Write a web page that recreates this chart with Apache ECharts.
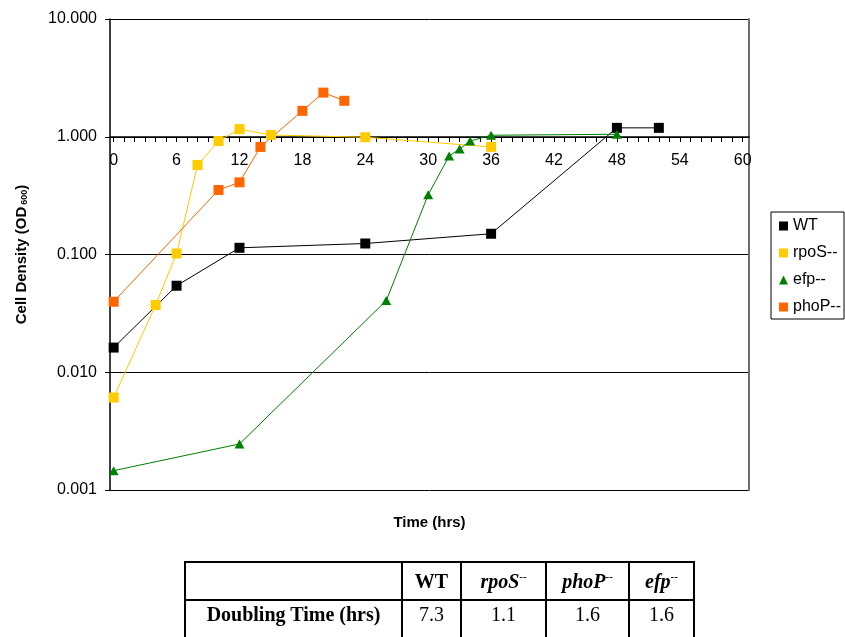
<!DOCTYPE html>
<html>
<head>
<meta charset="utf-8">
<script src="https://cdn.jsdelivr.net/npm/echarts@6/dist/echarts.min.js"></script>
<style>
  html, body { margin: 0; padding: 0; background: #fff; }
  #wrap { position: relative; width: 845px; height: 637px; overflow: hidden; }
  #chart { position: absolute; left: 0; top: 0; width: 845px; height: 637px; }
  #dt {
    position: absolute; left: 184px; top: 561px;
    border-collapse: collapse; table-layout: fixed;
    font-family: "Liberation Serif", "Times New Roman", serif; font-size: 20px; color: #000;
  }
  #dt td { border: 2px solid #000; text-align: center; padding: 0; }
  #dt tr.h td { height: 36px; font-weight: bold; }
  #dt tr.v td { height: 42px; vertical-align: top; padding-top: 2px; }
  #dt td.rowhead { font-weight: bold; }
  #dt i { font-weight: bold; }
  #dt sup { font-size: 11px; vertical-align: 8px; line-height: 0; }
</style>
</head>
<body>
<div id="wrap">
  <div id="chart"></div>
  <table id="dt">
    <colgroup><col style="width:217px"><col style="width:59px"><col style="width:85px"><col style="width:83px"><col style="width:65px"></colgroup>
    <tr class="h"><td></td><td>WT</td><td><i>rpoS</i><sup>--</sup></td><td><i>phoP</i><sup>--</sup></td><td><i>efp</i><sup>--</sup></td></tr>
    <tr class="v"><td class="rowhead">Doubling Time (hrs)</td><td>7.3</td><td>1.1</td><td>1.6</td><td>1.6</td></tr>
  </table>
</div>
<script>
// Growth curves: time (hrs) and OD600 for each strain
const wtTime   = [0, 6, 12, 24, 36, 48, 52];
const wtOD     = [0.0162, 0.0543, 0.114, 0.124, 0.150, 1.19, 1.19];

const rpoSTime = [0, 4, 6, 8, 10, 12, 15, 24, 36];
const rpoSOD   = [0.0061, 0.0372, 0.102, 0.575, 0.92, 1.16, 1.035, 0.99, 0.82];

const efpTime  = [0, 12, 26, 30, 32, 33, 34, 36, 48];
const efpOD    = [0.00146, 0.00246, 0.0406, 0.322, 0.687, 0.787, 0.92, 1.03, 1.05];

const phoPTime = [0, 10, 12, 14, 18, 20, 22];
const phoPOD   = [0.0397, 0.353, 0.41, 0.82, 1.66, 2.37, 2.02];

// Axis ticks
const xLabelValues = [0, 6, 12, 18, 24, 30, 36, 42, 48, 54, 60];
const xMinorStep = 1;
const yTickLabels = ['0.001', '0.010', '0.100', '1.000', '10.000'];

const xTickValues = [];
for (let t = 0; t <= 60; t += xMinorStep) xTickValues.push(t);

const pairs = (xs, ys) => xs.map((x, i) => [x, ys[i]]);

const FONT = '"Liberation Sans", Arial, sans-serif';
const xMin = -0.35, xMax = 60.6;

const chart = echarts.init(document.getElementById('chart'));

const strains = [
  { name: 'WT',     data: pairs(wtTime, wtOD),     color: '#000000', symbol: 'rect',     size: 10 },
  { name: 'rpoS--', data: pairs(rpoSTime, rpoSOD), color: '#FFCC00', symbol: 'rect',     size: 10 },
  { name: 'efp--',  data: pairs(efpTime, efpOD),   color: '#008000', symbol: 'triangle', size: [10, 9] },
  { name: 'phoP--', data: pairs(phoPTime, phoPOD), color: '#FF6600', symbol: 'rect',     size: 10 }
];

chart.setOption({
  animation: false,
  backgroundColor: '#ffffff',
  textStyle: { fontFamily: FONT },
  grid: { left: 110, right: 96, top: 19, bottom: 147 },
  legend: {
    orient: 'vertical',
    left: 771, top: 212,
    padding: [6, 3, 4, 8],
    itemGap: 11,
    itemWidth: 9, itemHeight: 9,
    borderColor: '#000', borderWidth: 1,
    textStyle: { fontSize: 16, color: '#000', fontFamily: FONT, lineHeight: 16 },
    data: strains.map(s => ({ name: s.name, icon: s.symbol }))
  },
  xAxis: [
    {
      // time axis drawn across the 1.000 level
      type: 'value', min: xMin, max: xMax,
      position: 'bottom', offset: -353,
      axisLine: { onZero: false, lineStyle: { color: '#000', width: 1.5 } },
      axisTick: { show: true, length: 5, inside: false, customValues: xTickValues, lineStyle: { color: '#000', width: 1 } },
      axisLabel: { customValues: xLabelValues, fontSize: 16, color: '#000', margin: 16, fontFamily: FONT },
      splitLine: { show: false }
    },
    {
      type: 'value', min: xMin, max: xMax, position: 'bottom',
      axisLine: { show: false, onZero: false }, axisTick: { show: false }, axisLabel: { show: false }, splitLine: { show: false },
      name: 'Time (hrs)', nameLocation: 'middle', nameGap: 25,
      nameTextStyle: { fontSize: 15, fontWeight: 'bold', color: '#000', fontFamily: FONT }
    }
  ],
  yAxis: [
    {
      type: 'log', logBase: 10, min: 0.001, max: 10, position: 'left',
      axisLine: { show: true, onZero: false, lineStyle: { color: '#000', width: 1.5 } },
      axisTick: { show: true, length: 5, lineStyle: { color: '#000', width: 1 } },
      axisLabel: {
        fontSize: 16, color: '#000', margin: 13, fontFamily: FONT,
        formatter: v => yTickLabels[Math.round(Math.log10(v)) + 3]
      },
      splitLine: { show: true, lineStyle: { color: '#000', width: 1 } },
      minorTick: { show: false },
      name: 'Cell Density (OD{sub|600})', nameLocation: 'middle', nameRotate: 90, nameGap: 81,
      nameTextStyle: {
        fontSize: 15, fontWeight: 'bold', color: '#000', fontFamily: FONT,
        rich: { sub: { fontSize: 9, fontWeight: 'bold', fontFamily: FONT, verticalAlign: 'bottom', padding: [0, 0, 0, 2] } }
      }
    },
    {
      // right frame edge
      type: 'log', logBase: 10, min: 0.001, max: 10, position: 'right',
      axisLine: { show: true, onZero: false, lineStyle: { color: '#6e6e6e', width: 2 } },
      axisTick: { show: false }, axisLabel: { show: false }, splitLine: { show: false }
    }
  ],
  series: strains.map(s => ({
    name: s.name,
    type: 'line',
    xAxisIndex: 0, yAxisIndex: 0,
    data: s.data,
    symbol: s.symbol,
    symbolSize: s.size,
    showAllSymbol: true,
    itemStyle: { color: s.color },
    lineStyle: { color: s.color, width: 1 },
    emphasis: { disabled: true }
  }))
});
</script>
</body>
</html>
